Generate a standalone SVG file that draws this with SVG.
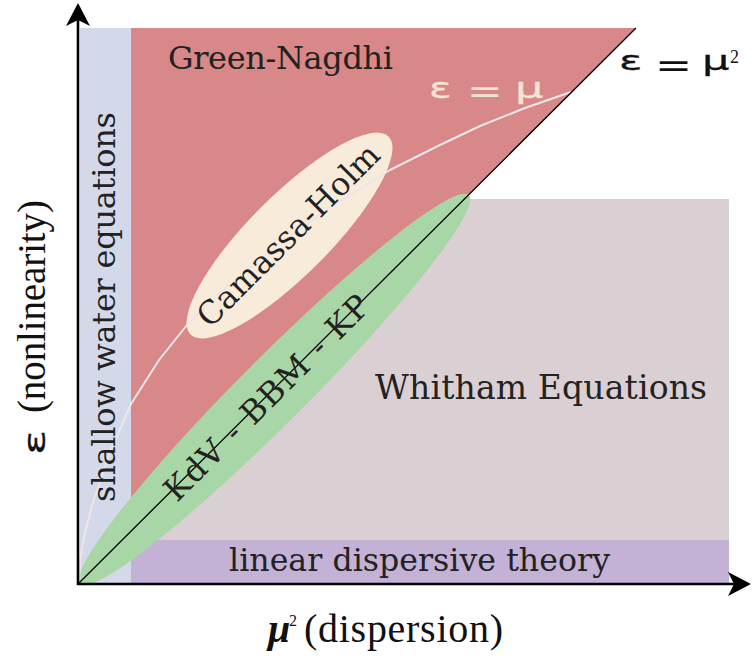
<svg xmlns="http://www.w3.org/2000/svg" width="752" height="660" viewBox="0 0 752 660">
<style>
.lbl{font-family:"DejaVu Serif",serif;fill:#222;}
.cm{font-family:"Liberation Serif",serif;fill:#111;}
.math{font-family:"DejaVu Sans",sans-serif;}
.blk{fill:#111;stroke:#111;stroke-width:0.3;}
.crm{fill:#f2e4d2;stroke:#f2e4d2;stroke-width:0.3;}
.eq{stroke-width:0;}
</style>
<rect width="752" height="660" fill="#fff"/>
<g id="whitham">
<polygon points="465,199 729,199 729,584 79,584" fill="#dacfd2"/>
</g>
<g id="linear">
<rect x="80" y="540" width="649" height="44" fill="#c3b1d6"/>
</g>
<g id="shallow">
<rect x="80" y="28" width="51" height="556" fill="#d4d9ea"/>
</g>
<g id="green-nagdhi">
<polygon points="131,28 636,28 131,532" fill="#d88888"/>
</g>
<g id="kdv">
<ellipse cx="274.5" cy="389.5" rx="275" ry="33" transform="rotate(-45 274.5 389.5)" fill="#a9d6a7"/>
</g>
<g id="camassa">
<ellipse cx="289.5" cy="235.5" rx="140" ry="40" transform="rotate(-45 289.5 235.5)" fill="#f8ebd9"/>
</g>
<g id="curves">
<polyline points="79,583 80,562 82,547 85,533 93,502 110,452 131,404 159,360 187,325 229,285 279,244 329,208 390,170 440,145 480,126 525,108 571,92" fill="none" stroke="#ece6ea" stroke-width="2" stroke-linejoin="round" stroke-linecap="round"/>
<line x1="79" y1="583" x2="636" y2="28" stroke="#000" stroke-width="1.3"/>
</g>
<g id="axes">
<line x1="78" y1="585" x2="78" y2="18" stroke="#000" stroke-width="2.6"/>
<path d="M78,3 L90,26 L78,20 L66,26 Z" fill="#000"/>
<line x1="77" y1="584" x2="738" y2="584" stroke="#000" stroke-width="2.6"/>
<path d="M751,584 L728,596 L734,584 L728,572 Z" fill="#000"/>
</g>
<g id="texts">
<text class="lbl" x="168" y="69" font-size="32" textLength="225">Green-Nagdhi</text>
<text class="lbl" x="375" y="399" font-size="33" textLength="332">Whitham Equations</text>
<text class="lbl" x="229" y="571" font-size="31.6" textLength="381">linear dispersive theory</text>
<text class="lbl" font-size="32" textLength="390" transform="translate(115,502) rotate(-90)">shallow water equations</text>
<text class="lbl" font-size="32" text-anchor="middle" transform="translate(296,243) rotate(-45)">Camassa-Holm</text>
<text class="lbl" font-size="32" text-anchor="middle" textLength="276" transform="translate(274.5,405.5) rotate(-45)">KdV - BBM - KP</text>
<text class="math crm" font-size="28" transform="translate(429,98) scale(1.5,1)">ε</text>
<text class="math crm eq" font-size="34" transform="translate(467,103) scale(1.25,1)">=</text>
<text class="math crm" font-size="28" transform="translate(515,98) scale(1.6,1)">μ</text>
<text class="math blk" font-size="27" transform="translate(619,70) scale(1.6,1)">ε</text>
<text class="math blk eq" font-size="34" transform="translate(655,77) scale(1.3,1)">=</text>
<text class="math blk" font-size="27" transform="translate(702,70) scale(1.6,1)">μ</text>
<text class="cm" x="730" y="63" font-size="18">2</text>
<text class="cm" x="268" y="642" font-size="40" font-style="italic" font-weight="bold">μ</text>
<text class="cm" x="289" y="626" font-size="16">2</text>
<text class="cm" x="304" y="642" font-size="40" textLength="199">(dispersion)</text>
<text class="math blk" font-size="31" transform="translate(45,455) rotate(-90) scale(1.5,1)">ε</text>
<text class="cm" font-size="39" textLength="213" transform="translate(45,413) rotate(-90)">(nonlinearity)</text>
</g>
</svg>
